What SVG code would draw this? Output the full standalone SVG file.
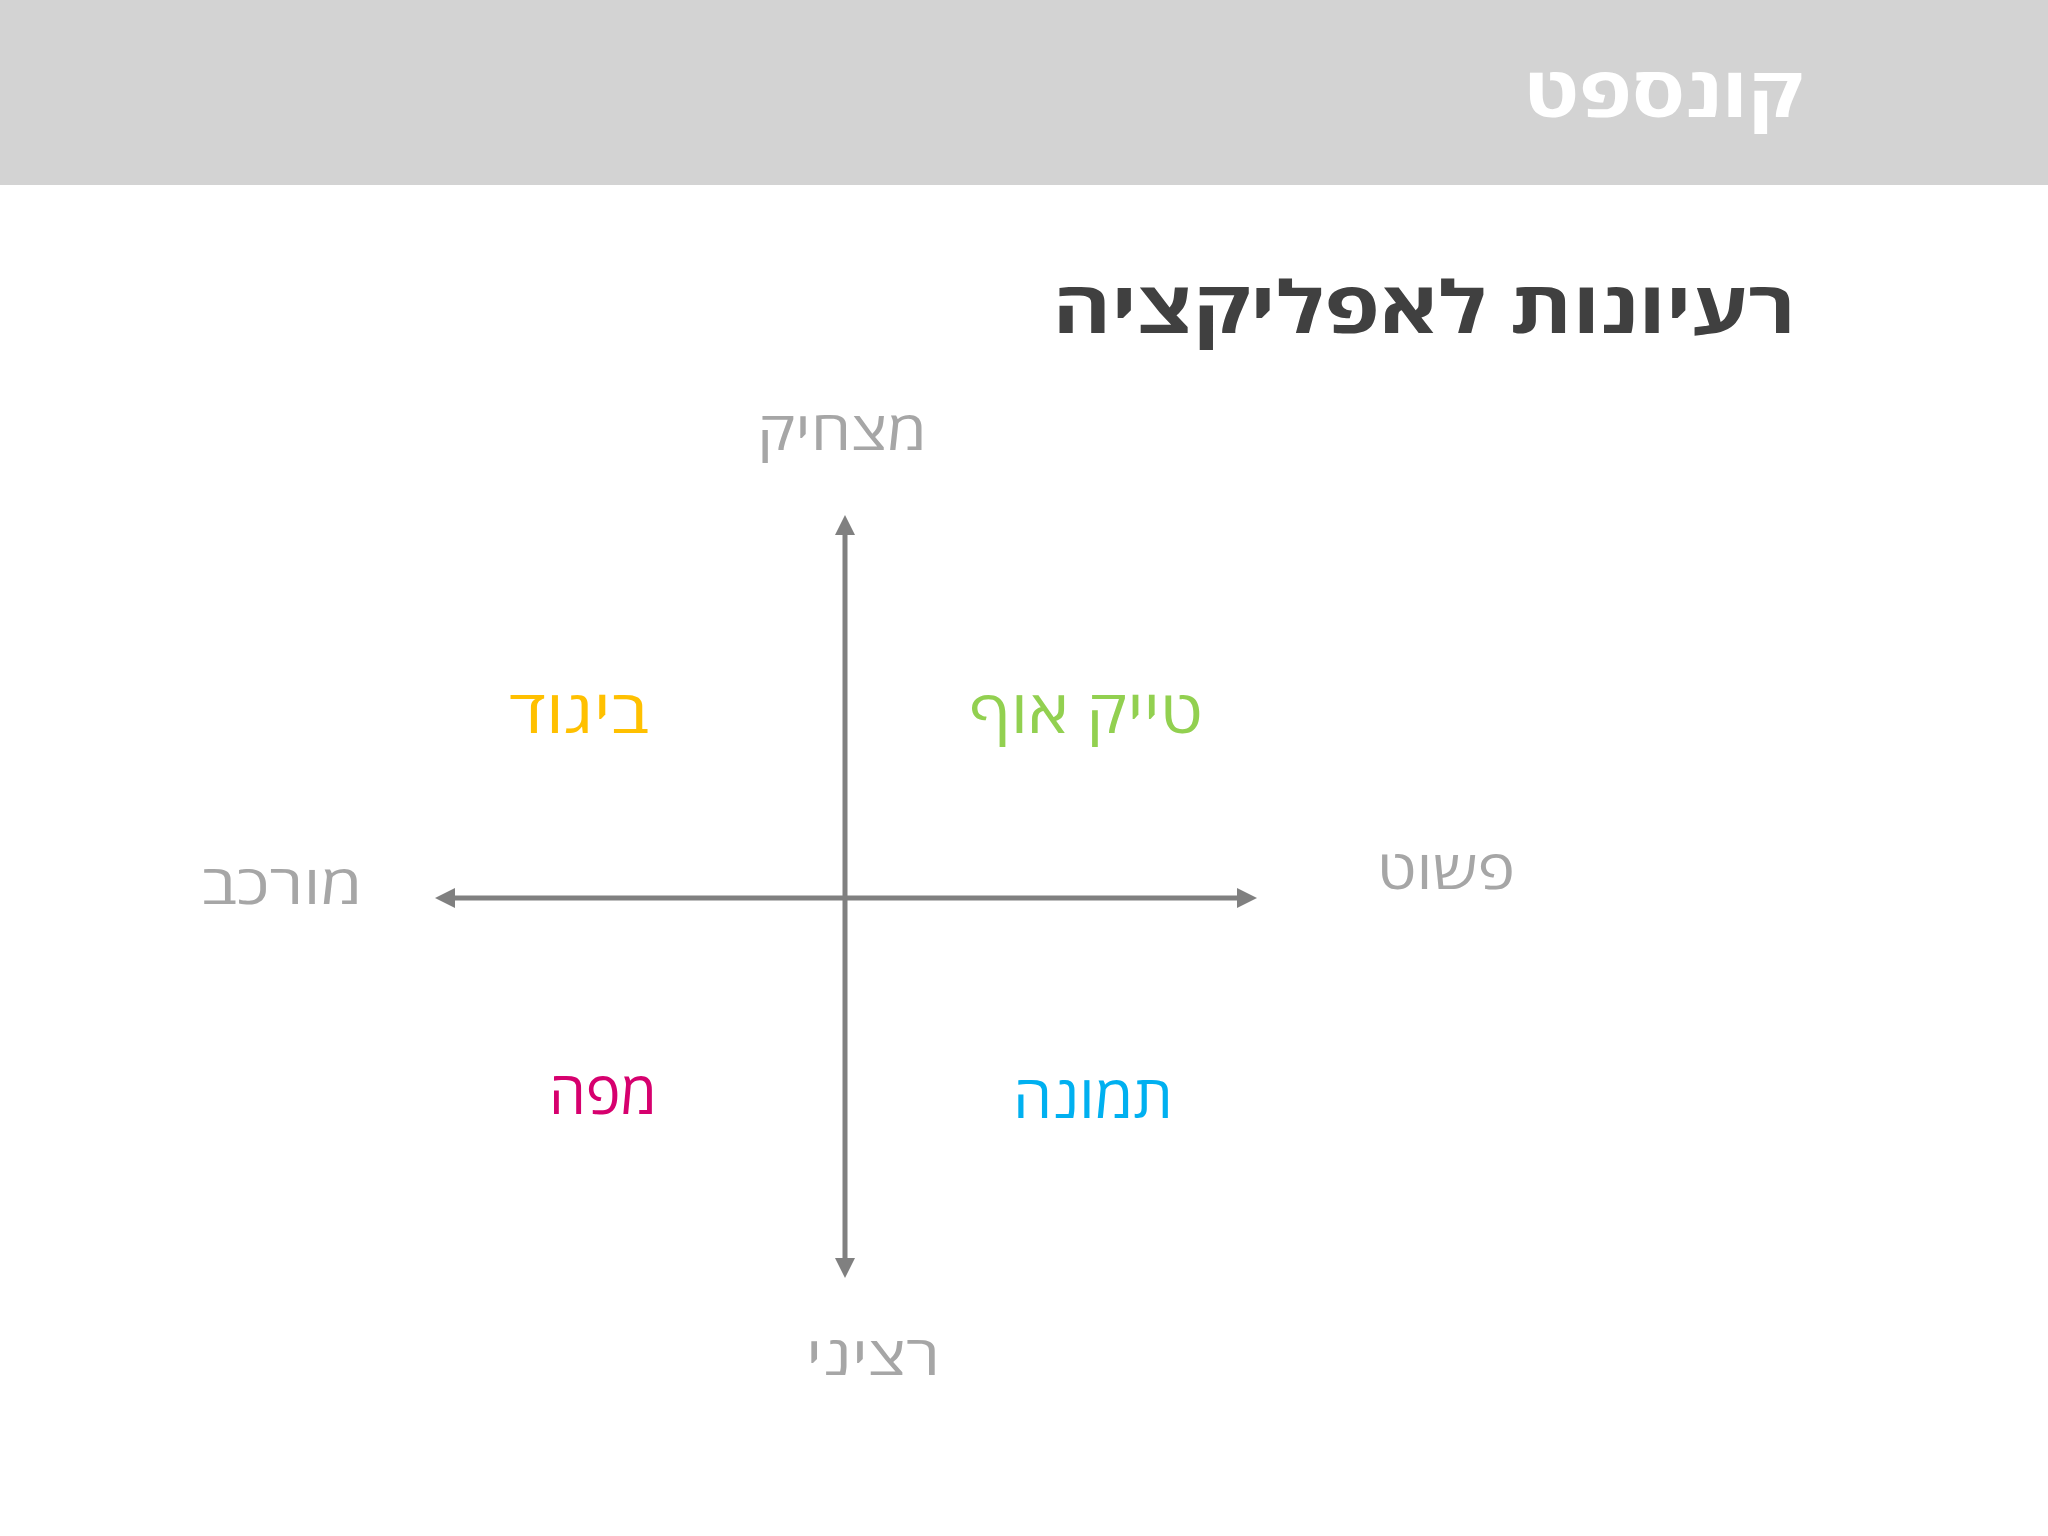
<svg xmlns="http://www.w3.org/2000/svg" width="2048" height="1536" viewBox="0 0 2048 1536">
  <style>
    text { font-family: "Open Sans", "DejaVu Sans", "Liberation Sans", sans-serif; direction: rtl; text-anchor: middle; }
    .title { fill: #ffffff; font-size: 70px; font-weight: 700; }
    .sub { fill: #404040; font-size: 72px; font-weight: 700; }
    .axis-label { fill: #a6a6a6; font-size: 54px; }
    .idea { font-size: 60px; }
    .axis { stroke: #808080; stroke-width: 5; fill: none; }
  </style>
  <defs>
    <marker id="arrow" viewBox="0 0 20 20" refX="1" refY="10" markerWidth="20" markerHeight="20" markerUnits="userSpaceOnUse" orient="auto-start-reverse">
      <path d="M0,0 L20,10 L0,20 z" fill="#808080"/>
    </marker>
  </defs>
  <rect width="2048" height="1536" fill="#ffffff"/>
  <g id="header">
    <rect x="0" y="0" width="2048" height="185" fill="#d3d3d3"/>
    <text class="title" x="1663" y="117" textLength="279" lengthAdjust="spacingAndGlyphs">קונספט</text>
  </g>
  <g id="subtitle">
    <text class="sub" x="1424" y="333" textLength="743" lengthAdjust="spacingAndGlyphs">רעיונות לאפליקציה</text>
  </g>
  <g id="connectors">
    <line class="axis" x1="845" y1="1259" x2="845" y2="534" marker-start="url(#arrow)" marker-end="url(#arrow)"/>
    <line class="axis" x1="454" y1="898" x2="1238" y2="898" marker-start="url(#arrow)" marker-end="url(#arrow)"/>
  </g>
  <g id="label-funny"><text class="axis-label" x="842" y="450" textLength="170" lengthAdjust="spacingAndGlyphs">מצחיק</text></g>
  <g id="label-complex"><text class="axis-label" x="282" y="904" textLength="161" lengthAdjust="spacingAndGlyphs">מורכב</text></g>
  <g id="label-simple"><text class="axis-label" x="1446" y="889" textLength="138" lengthAdjust="spacingAndGlyphs">פשוט</text></g>
  <g id="label-serious"><text class="axis-label" x="873" y="1375" textLength="134" lengthAdjust="spacingAndGlyphs">רציני</text></g>
  <g id="idea-clothing"><text class="idea" x="579" y="733" fill="#ffc000" textLength="140" lengthAdjust="spacingAndGlyphs">ביגוד</text></g>
  <g id="idea-takeoff"><text class="idea" x="1086" y="733" fill="#92d050" textLength="234" lengthAdjust="spacingAndGlyphs">טייק אוף</text></g>
  <g id="idea-map"><text class="idea" x="603" y="1114" fill="#d6006e" textLength="108" lengthAdjust="spacingAndGlyphs">מפה</text></g>
  <g id="idea-picture"><text class="idea" x="1093" y="1118" fill="#00b0f0" textLength="160" lengthAdjust="spacingAndGlyphs">תמונה</text></g>
</svg>
